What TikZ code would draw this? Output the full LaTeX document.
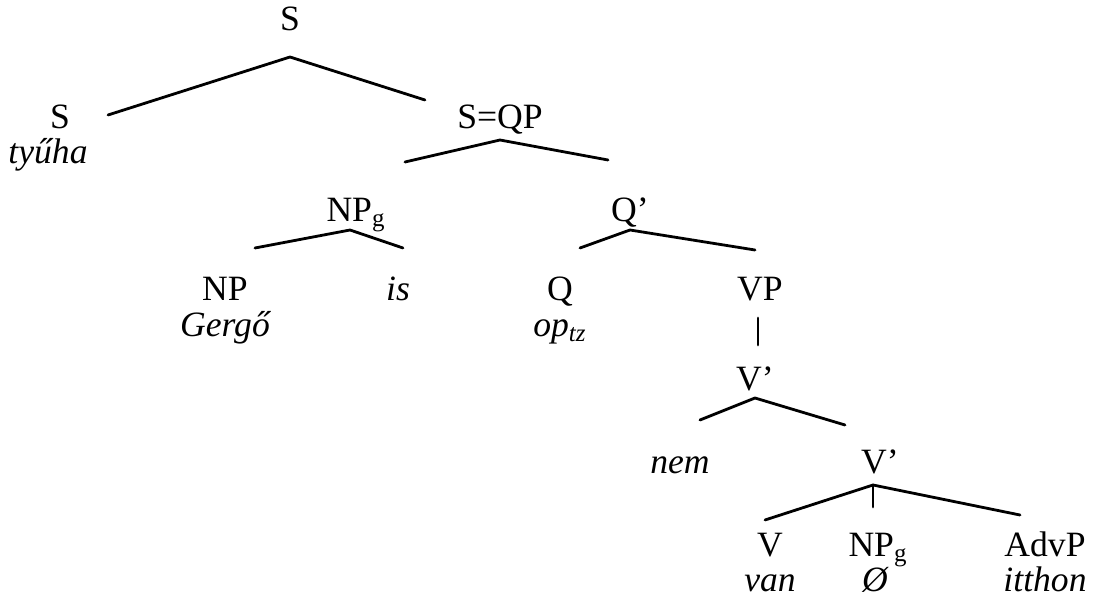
\documentclass[tikz,border=0pt]{standalone}
\usepackage{fontspec}
\setmainfont{Liberation Serif}
\usepackage{tikz}

\begin{document}
\begin{tikzpicture}[x=0.5pt,y=-0.5pt,line width=1.4pt,line cap=round,
  every node/.style={inner sep=0pt,anchor=base,font=\fontsize{17.8}{19}\selectfont},
  lex/.style={font=\fontsize{17.8}{19}\selectfont\itshape}]
\useasboundingbox (0,0) rectangle (1094,599);
% labels
\node (s0) at (290,31) {S};
\node (s1) at (60,129) {S};
\node[lex] (w1) at (48,164) {tyűha};
\node (sqp) at (500,129) {S=QP};
\node (npg) at (356,221) {NP\textsubscript{g}};
\node (qb) at (630,221) {Q’};
\node (np) at (225,300) {NP};
\node[lex] (w2) at (225,336) {Gergő};
\node[lex] (w3) at (398,300) {is};
\node (q) at (560,300) {Q};
\node[lex] (w4) at (560,336) {op\textsubscript{tz}};
\node (vp) at (760,300) {VP};
\node (vb1) at (755,390) {V’};
\node[lex] (w5) at (680,473) {nem};
\node (vb2) at (880,473) {V’};
\node (v) at (770,556) {V};
\node[lex] (w6) at (770,591) {van};
\node (npg2) at (878,556) {NP\textsubscript{g}};
\node[lex] (w7) at (875,591) {Ø};
\node (adv) at (1045,556) {AdvP};
\node[lex] (w8) at (1045,591) {itthon};
% branch points
\coordinate (s0-b) at (290,57);
\coordinate (s1-t) at (108,115);
\coordinate (sqp-t) at (425,100);
\coordinate (sqp-b) at (500,140);
\coordinate (npg-t) at (405,162);
\coordinate (qb-t) at (608,160);
\coordinate (npg-b) at (350,230);
\coordinate (np-t) at (255,248);
\coordinate (w3-t) at (403,248);
\coordinate (qb-b) at (630,230);
\coordinate (q-t) at (580,248);
\coordinate (vp-t) at (755,250);
\coordinate (vp-b) at (758,318);
\coordinate (vb1-t) at (758,345);
\coordinate (vb1-b) at (755,398);
\coordinate (w5-t) at (700,420);
\coordinate (vb2-t) at (845,425);
\coordinate (vb2-b) at (873,485);
\coordinate (v-t) at (765,520);
\coordinate (npg2-t) at (873,507);
\coordinate (adv-t) at (1020,515);
% branches
\draw (s1-t) -- (s0-b) -- (sqp-t);
\draw (npg-t) -- (sqp-b) -- (qb-t);
\draw (np-t) -- (npg-b) -- (w3-t);
\draw (q-t) -- (qb-b) -- (vp-t);
\draw (vp-b) -- (vb1-t);
\draw (w5-t) -- (vb1-b) -- (vb2-t);
\draw (v-t) -- (vb2-b) -- (adv-t);
\draw (vb2-b) -- (npg2-t);
\end{tikzpicture}
\end{document}
